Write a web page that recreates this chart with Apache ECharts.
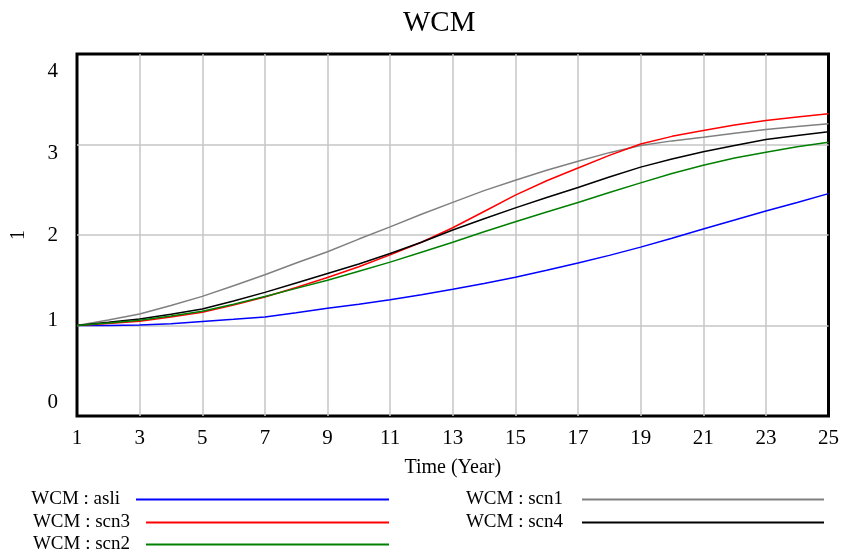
<!DOCTYPE html>
<html>
<head>
<meta charset="utf-8">
<title>WCM</title>
<script src="https://cdn.jsdelivr.net/npm/echarts@6/dist/echarts.min.js"></script>
<style>
  html, body { margin: 0; padding: 0; background: #fff; }
  #chart { width: 842px; height: 553px; }
</style>
</head>
<body>
<div id="chart"></div>
<script>
var years = [1, 2, 3, 4, 5, 6, 7, 8, 9, 10, 11, 12, 13, 14, 15, 16, 17, 18, 19, 20, 21, 22, 23, 24, 25];
var asli = [1.0, 1.0, 1.006, 1.02, 1.044, 1.068, 1.095, 1.14, 1.19, 1.235, 1.285, 1.34, 1.40, 1.465, 1.533, 1.61, 1.69, 1.775, 1.866, 1.965, 2.066, 2.165, 2.265, 2.36, 2.457];
var scn1 = [1.0, 1.06, 1.128, 1.22, 1.322, 1.44, 1.56, 1.69, 1.815, 1.955, 2.09, 2.23, 2.36, 2.49, 2.605, 2.715, 2.815, 2.91, 2.99, 3.04, 3.08, 3.125, 3.166, 3.2, 3.23];
var scn2 = [1.0, 1.028, 1.059, 1.105, 1.157, 1.235, 1.32, 1.41, 1.50, 1.60, 1.70, 1.81, 1.92, 2.035, 2.146, 2.255, 2.36, 2.47, 2.576, 2.68, 2.77, 2.85, 2.915, 2.975, 3.026];
var scn3 = [1.0, 1.022, 1.048, 1.095, 1.147, 1.225, 1.315, 1.42, 1.53, 1.65, 1.78, 1.92, 2.08, 2.26, 2.44, 2.60, 2.74, 2.88, 3.005, 3.09, 3.155, 3.215, 3.265, 3.305, 3.34];
var scn4 = [1.0, 1.035, 1.073, 1.125, 1.183, 1.27, 1.366, 1.47, 1.575, 1.68, 1.795, 1.92, 2.055, 2.18, 2.30, 2.415, 2.525, 2.64, 2.75, 2.84, 2.92, 2.99, 3.055, 3.10, 3.14];

var font = 'Liberation Serif';

function pairs(vals) {
  return years.map(function (t, i) { return [t, vals[i]]; });
}

function line(name, vals, color) {
  return {
    name: name,
    type: 'line',
    data: pairs(vals),
    symbol: 'none',
    color: color,
    lineStyle: { color: color, width: 1.5 }
  };
}

// one legend per entry, text left of a long line
function legendItem(name, right, top, width, gap) {
  return {
    data: [name],
    right: right,
    top: top,
    padding: 0,
    icon: 'rect',
    itemWidth: width,
    itemHeight: 2,
    align: 'right',
    selectedMode: false,
    textStyle: { fontFamily: font, fontSize: 19, color: '#000', padding: [0, gap, 0, 0] }
  };
}

var chart = echarts.init(document.getElementById('chart'));

chart.setOption({
  animation: false,
  backgroundColor: '#fff',
  title: {
    text: 'WCM',
    left: 398,
    top: 4,
    textStyle: { fontFamily: font, fontSize: 29, fontWeight: 'normal', color: '#000' }
  },
  legend: [
    legendItem('WCM : asli', 453, 490, 253, 11),
    legendItem('WCM : scn3', 453, 513, 243, 11),
    legendItem('WCM : scn2', 453, 535, 243, 11),
    legendItem('WCM : scn1', 18, 490, 242, 14),
    legendItem('WCM : scn4', 18, 513, 242, 14)
  ],
  grid: {
    left: 77,
    right: 13,
    top: 54,
    bottom: 137,
    show: true,
    borderColor: '#000',
    borderWidth: 3
  },
  xAxis: {
    type: 'value',
    min: 1,
    max: 25,
    interval: 2,
    name: 'Time (Year)',
    nameLocation: 'middle',
    nameGap: 42,
    nameTextStyle: { fontFamily: font, fontSize: 20, color: '#000' },
    axisLine: { show: false },
    axisTick: { show: false },
    axisLabel: { fontFamily: font, fontSize: 21, color: '#000', margin: 12 },
    splitLine: { show: true, showMinLine: false, showMaxLine: false, lineStyle: { color: '#c6c6c6', width: 1.5 } }
  },
  yAxis: {
    type: 'value',
    min: 0,
    max: 4,
    interval: 1,
    name: '1',
    nameLocation: 'middle',
    nameRotate: 90,
    nameGap: 48,
    nameTextStyle: { fontFamily: font, fontSize: 20, color: '#000' },
    axisLine: { show: false },
    axisTick: { show: false },
    axisLabel: {
      fontFamily: font,
      fontSize: 21,
      color: '#000',
      margin: 19,
      formatter: function (v) { return '{l' + v + '|' + v + '}'; },
      rich: {
        l4: { fontFamily: font, fontSize: 21, color: '#000', padding: [34, 0, 0, 0] },
        l3: { fontFamily: font, fontSize: 21, color: '#000', padding: [18, 0, 0, 0] },
        l2: { fontFamily: font, fontSize: 21, color: '#000' },
        l1: { fontFamily: font, fontSize: 21, color: '#000', padding: [0, 0, 11, 0] },
        l0: { fontFamily: font, fontSize: 21, color: '#000', padding: [0, 0, 28, 0] }
      }
    },
    splitLine: { show: true, showMinLine: false, showMaxLine: false, lineStyle: { color: '#c6c6c6', width: 1.5 } }
  },
  series: [
    line('WCM : asli', asli, '#0000ff'),
    line('WCM : scn1', scn1, '#808080'),
    line('WCM : scn3', scn3, '#ff0000'),
    line('WCM : scn4', scn4, '#000000'),
    line('WCM : scn2', scn2, '#008000')
  ]
});
</script>
</body>
</html>
